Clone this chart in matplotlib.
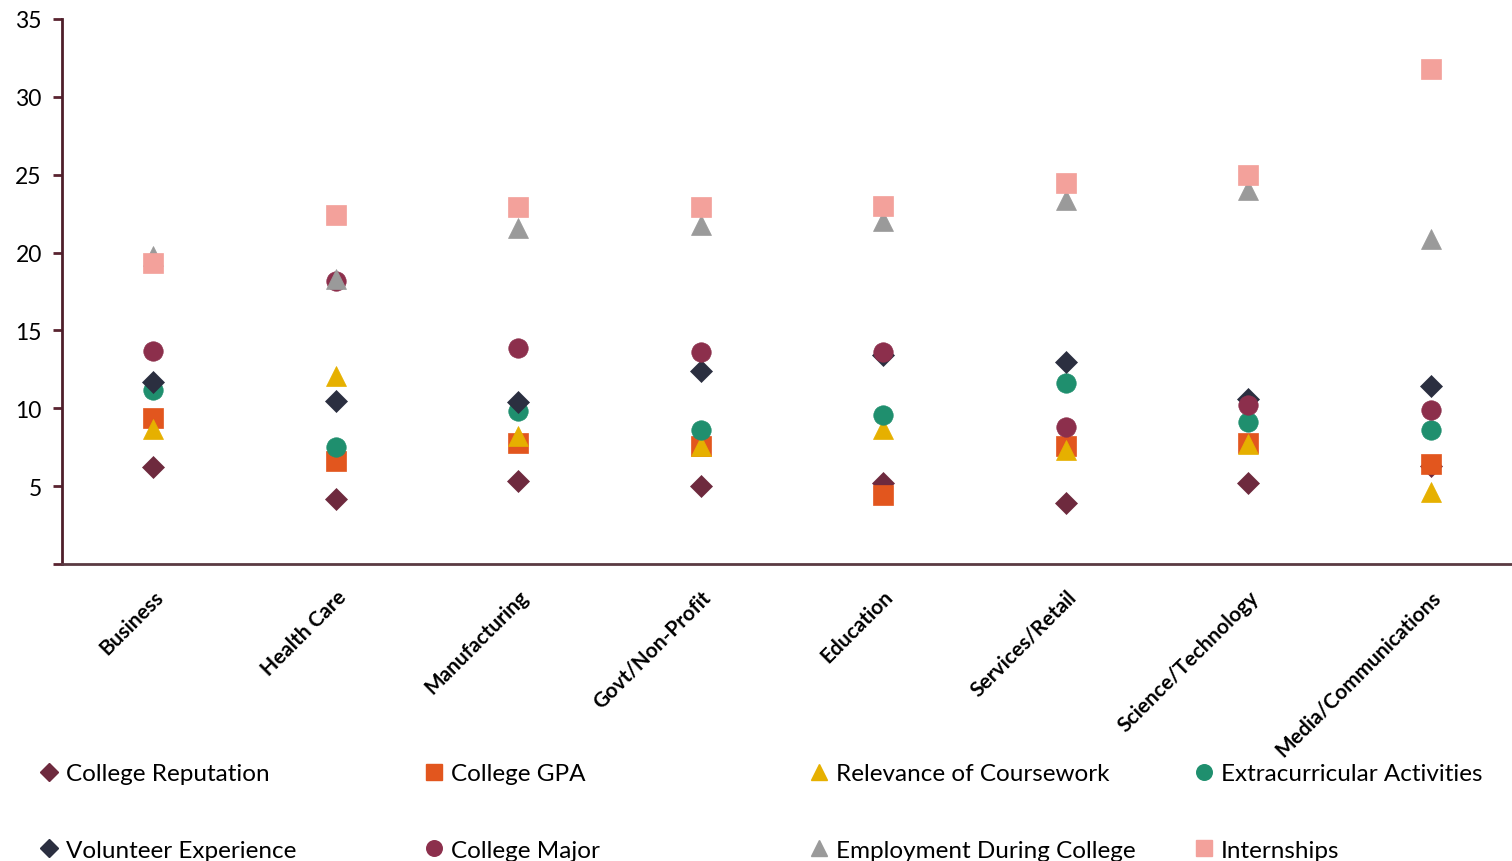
import matplotlib
matplotlib.use("Agg")
import matplotlib.pyplot as plt
from matplotlib.lines import Line2D

categories = ["Business", "Health Care", "Manufacturing", "Govt/Non-Profit",
              "Education", "Services/Retail", "Science/Technology", "Media/Communications"]

college_reputation = [6.2, 4.2, 5.3, 5.0, 5.2, 3.9, 5.2, 6.3]
college_gpa = [9.4, 6.6, 7.8, 7.6, 4.4, 7.6, 7.8, 6.4]
relevance_coursework = [8.7, 12.1, 8.2, 7.6, 8.7, 7.3, 7.7, 4.6]
extracurricular = [11.2, 7.5, 9.8, 8.6, 9.6, 11.6, 9.1, 8.6]
volunteer = [11.7, 10.5, 10.4, 12.4, 13.4, 13.0, 10.6, 11.4]
college_major = [13.7, 18.2, 13.9, 13.6, 13.6, 8.8, 10.2, 9.9]
employment = [19.8, 18.3, 21.6, 21.8, 22.0, 23.4, 24.0, 20.9]
internships = [19.3, 22.4, 22.9, 22.9, 23.0, 24.5, 25.0, 31.8]

series_names = ["College Reputation", "College GPA", "Relevance of Coursework",
                "Extracurricular Activities", "Volunteer Experience", "College Major",
                "Employment During College", "Internships"]
series_values = [college_reputation, college_gpa, relevance_coursework, extracurricular,
                 volunteer, college_major, employment, internships]
markers = ["D", "s", "^", "o", "D", "o", "^", "s"]
colors = ["#6E2A3E", "#E2561E", "#E6B000", "#1F8F6E", "#2B2F40", "#8C2F4C", "#9A9A9A", "#F3A19B"]
sizes = [11, 14, 15, 14, 11.5, 14, 15, 14.5]

plt.rcParams['font.family'] = ['Lato', 'DejaVu Sans']

fig = plt.figure(figsize=(15.12, 8.62), dpi=100)
ax = fig.add_axes([62/1512, 1-565/862, (1522-62)/1512, (565-20)/862])

x = list(range(len(categories)))
handles = []
for name, vals, m, c, s in zip(series_names, series_values, markers, colors, sizes):
    ax.plot(x, vals, linestyle='none', marker=m, markersize=s, color=c,
            markeredgecolor=c, markeredgewidth=0.5, label=name)
    handles.append(Line2D([0], [0], linestyle='none', marker=m, markersize=s * 0.8,
                          color=c, markeredgecolor=c))

ax.set_xlim(-0.5, len(categories) - 0.5)
ax.set_ylim(0, 35)
ax.set_yticks([0, 5, 10, 15, 20, 25, 30, 35])
ax.set_yticklabels(["", "5", "10", "15", "20", "25", "30", "35"], fontsize=16.5)
ax.set_xticks(x)
ax.set_xticklabels(categories, rotation=45, ha='right', va='top',
                   rotation_mode='anchor', fontsize=15, fontweight='bold')
ax.tick_params(axis='x', length=0, pad=16)
ax.tick_params(axis='y', length=6.5, width=2, color="#5A2430", pad=8)

for sp in ['top', 'right']:
    ax.spines[sp].set_visible(False)
ax.spines['left'].set_color("#4E1E2A")
ax.spines['left'].set_linewidth(2)
ax.spines['bottom'].set_color("#5A3A42")
ax.spines['bottom'].set_linewidth(2)

col_x = [39, 424, 809, 1194]
for i, cx in enumerate(col_x):
    hs = [handles[i], handles[i + 4]]
    ls = [series_names[i], series_names[i + 4]]
    fig.legend(hs, ls, loc='upper left', bbox_to_anchor=(cx / 1512, 1 - 764 / 862),
               frameon=False, fontsize=17.5, handlelength=0.8, handletextpad=0.3,
               labelspacing=2.3, borderpad=0, borderaxespad=0)

fig.savefig("out.png", dpi=100)
